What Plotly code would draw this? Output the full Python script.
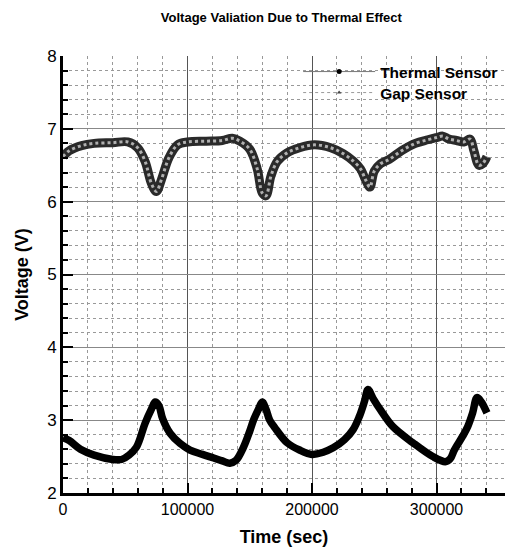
import plotly.graph_objects as go

# Gap sensor (upper curve)
gap_time = [0, 5000, 15000, 25000, 40000, 52000, 60000, 66000, 71000, 75000, 79000, 85000,
            92000, 100000, 115000, 128000, 136000, 142000, 150000, 156000, 160000, 163000,
            167000, 172000, 180000, 190000, 202000, 215000, 225000, 233000, 239000, 243000,
            246500, 250000, 255000, 262000, 272000, 283000, 293000, 300000, 305000, 310000,
            316000, 322000, 327000, 330000, 334000, 337000, 340500]
gap_volt = [6.62, 6.70, 6.77, 6.80, 6.81, 6.82, 6.74, 6.55, 6.25, 6.14, 6.30, 6.60,
            6.78, 6.82, 6.83, 6.84, 6.87, 6.83, 6.72, 6.45, 6.12, 6.08,
            6.35, 6.55, 6.67, 6.74, 6.78, 6.74, 6.66, 6.56, 6.45, 6.30,
            6.20, 6.42, 6.52, 6.58, 6.70, 6.80, 6.85, 6.88, 6.90, 6.86,
            6.84, 6.82, 6.86, 6.70, 6.50, 6.52, 6.62]

# Thermal sensor (lower curve)
th_time = [0, 5000, 14000, 25000, 40000, 47000, 53000, 59000, 66000, 71000, 74000, 77000,
           80000, 86000, 94000, 102000, 112000, 121000, 128000, 134000, 139000, 145000,
           150000, 153000, 157000, 160000, 163000, 166000, 170000, 180000, 190000, 200000,
           209000, 217000, 226000, 233000, 238000, 242000, 245000, 249000, 255000, 265000,
           281000, 297000, 307000, 311000, 314000, 316000, 321000, 325000, 329000,
           332500, 336000, 340500]
th_volt = [2.76, 2.72, 2.60, 2.52, 2.46, 2.46, 2.52, 2.63, 2.96, 3.15, 3.25, 3.20,
           3.02, 2.82, 2.68, 2.59, 2.53, 2.48, 2.44, 2.41, 2.45, 2.63,
           2.85, 3.00, 3.15, 3.25, 3.15, 3.00, 2.90, 2.69, 2.59, 2.53,
           2.56, 2.62, 2.73, 2.87, 3.05, 3.25, 3.42, 3.30, 3.14, 2.91,
           2.69, 2.50, 2.43, 2.47, 2.58, 2.64, 2.78, 2.91, 3.10,
           3.31, 3.25, 3.10]

x_ticks = [0, 100000, 200000, 300000]
y_ticks = [2, 3, 4, 5, 6, 7, 8]

FONT = "Liberation Sans, Arial, sans-serif"

fig = go.Figure()

fig.add_trace(go.Scatter(x=gap_time, y=gap_volt, mode="lines", line_shape="spline",
                         line=dict(color="#2a2a2a", width=9), showlegend=False, hoverinfo="skip"))
fig.add_trace(go.Scatter(x=gap_time, y=gap_volt, mode="lines", line_shape="spline",
                         line=dict(color="#b0b0b0", width=3, dash="dot"), showlegend=False, hoverinfo="skip"))
fig.add_trace(go.Scatter(x=th_time, y=th_volt, mode="lines", line_shape="spline",
                         line=dict(color="black", width=7.5), showlegend=False))

# legend entries
fig.add_trace(go.Scatter(x=[None], y=[None], mode="lines+markers", name="<b>Thermal Sensor</b>",
                         line=dict(color="#777", width=1), marker=dict(color="black", size=5, symbol="circle"),
                         legend="legend"))
fig.add_trace(go.Scatter(x=[None], y=[None], mode="lines+markers", name="<b>Gap Sensor</b>",
                         line=dict(color="#999", width=1, dash="dot"), marker=dict(color="#444", size=4, symbol="triangle-up"),
                         legend="legend2"))

leg_common = dict(xanchor="left", yanchor="middle", bgcolor="rgba(0,0,0,0)",
                  font=dict(size=15.5, family=FONT), itemwidth=72)

fig.update_layout(
    width=507, height=549,
    margin=dict(l=63, r=2, t=56, b=56),
    paper_bgcolor="white", plot_bgcolor="white",
    font=dict(family=FONT, color="black"),
    title=dict(text="<b>Voltage Valiation Due to Thermal Effect</b>", x=0.555, xanchor="center",
               y=1 - 17 / 549, yanchor="middle", font=dict(size=13)),
    legend=dict(x=0.532, y=(493 - 72) / 437, **leg_common),
    legend2=dict(x=0.532, y=(493 - 93) / 437, **leg_common),
    showlegend=True,
)
fig.update_xaxes(
    range=[0, 355000], tickvals=x_ticks, ticktext=[str(v) for v in x_ticks],
    tickfont=dict(size=16), ticks="inside", ticklen=10, tickwidth=2, tickcolor="black",
    showline=True, linecolor="black", linewidth=3, automargin=False,
    showgrid=True, gridcolor="#555", gridwidth=1, zeroline=False,
    minor=dict(dtick=20000, showgrid=True, gridcolor="#999", griddash="dot", gridwidth=1,
               ticks="inside", ticklen=5, tickcolor="black"),
    title=dict(text="<b>Time (sec)</b>", font=dict(size=18), standoff=14),
)
fig.update_yaxes(
    range=[2, 8], tickvals=y_ticks, ticktext=[str(v) for v in y_ticks],
    tickfont=dict(size=17), ticks="inside", ticklen=10, tickwidth=2, tickcolor="black",
    showline=True, linecolor="black", linewidth=3, automargin=False,
    showgrid=True, gridcolor="#888", gridwidth=1, zeroline=False,
    minor=dict(dtick=0.2, showgrid=True, gridcolor="#999", griddash="dot", gridwidth=1,
               ticks="inside", ticklen=5, tickcolor="black"),
    title=dict(text="<b>Voltage (V)</b>", font=dict(size=18), standoff=14),
)

fig.write_html("out.html", config={"displayModeBar": False},
               post_script="document.body.style.margin='0';")
